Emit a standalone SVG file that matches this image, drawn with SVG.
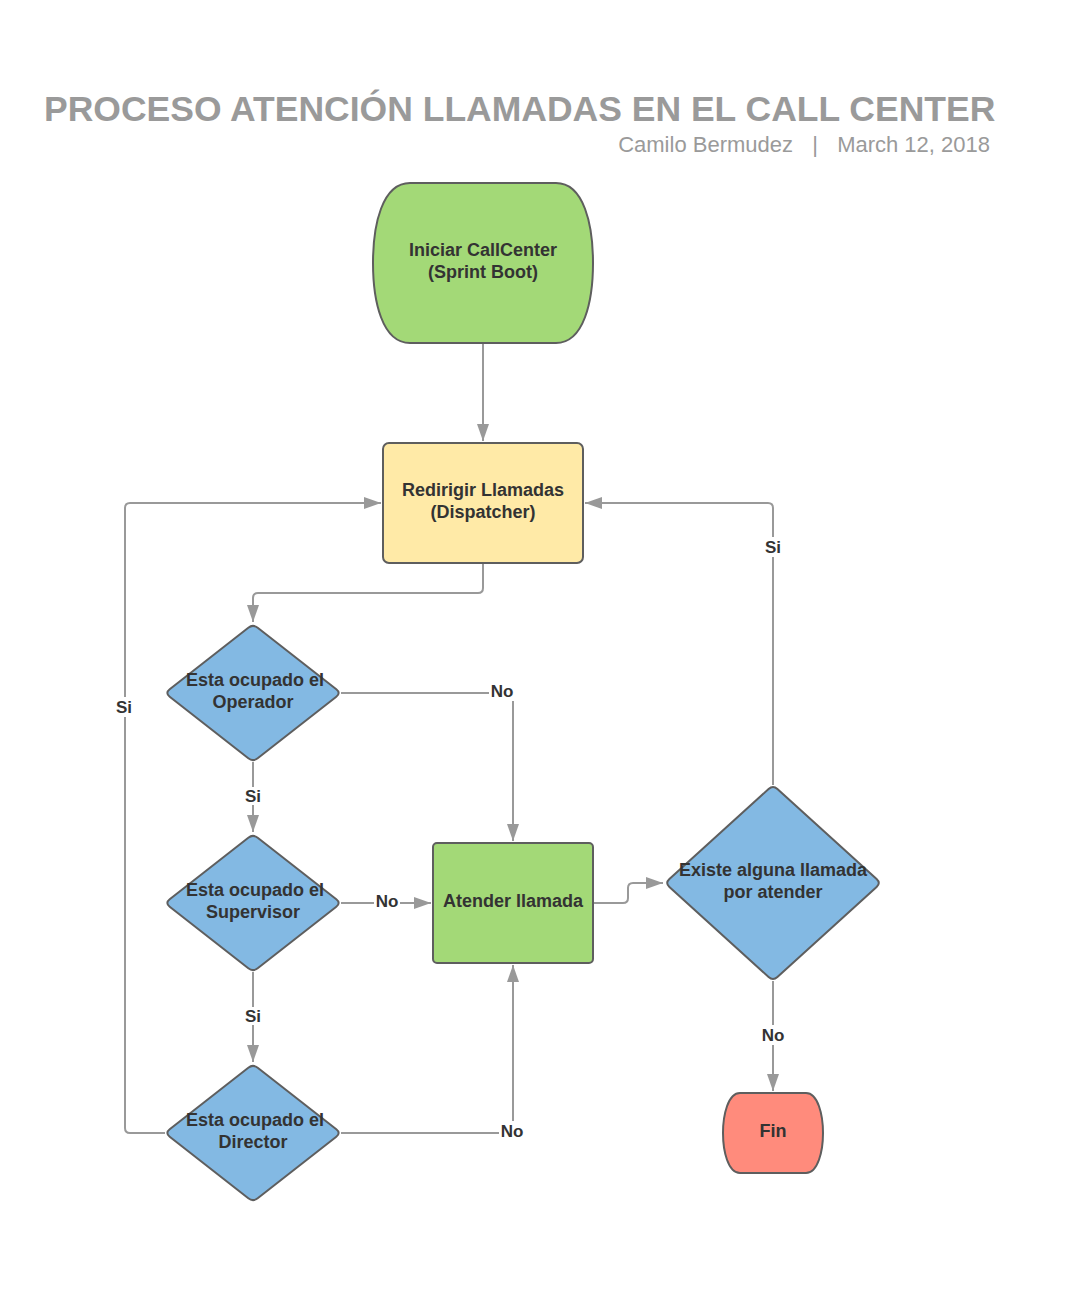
<svg xmlns="http://www.w3.org/2000/svg" width="1077" height="1293" viewBox="0 0 1077 1293">
  <style>
    .title { font-family: "Liberation Sans", Arial, sans-serif; font-weight: bold; font-size: 35.5px; fill: #9a9a9a; }
    .sub { font-family: "Liberation Sans", Arial, sans-serif; font-size: 22px; fill: #9a9a9a; }
    .node { stroke: #5e5e5e; stroke-width: 2; stroke-linejoin: round; }
    .green { fill: #a3d977; }
    .yellow { fill: #ffeaa7; }
    .blue { fill: #83b9e3; }
    .red { fill: #ff8b7c; }
    .txt { font-family: "Liberation Sans", Arial, sans-serif; font-weight: bold; font-size: 18px; fill: #333333; text-anchor: middle; }
    .conn { fill: none; stroke: #999999; stroke-width: 2; }
    .lbl { font-family: "Liberation Sans", Arial, sans-serif; font-weight: bold; font-size: 17px; fill: #333333; text-anchor: middle; }
    .lblbg { fill: #ffffff; }
  </style>
  <defs>
    <marker id="arrow" markerUnits="userSpaceOnUse" markerWidth="17" markerHeight="12" refX="17" refY="6" orient="auto">
      <path d="M0,0 L17,6 L0,12 Z" fill="#999999"/>
    </marker>
  </defs>

  <rect width="1077" height="1293" fill="#ffffff"/>

  <!-- heading -->
  <text class="title" x="44" y="121">PROCESO ATENCIÓN LLAMADAS EN EL CALL CENTER</text>
  <text class="sub" x="793" y="152" text-anchor="end">Camilo Bermudez</text>
  <text class="sub" x="815" y="152" text-anchor="middle">|</text>
  <text class="sub" x="990" y="152" text-anchor="end">March 12, 2018</text>

  <!-- connectors -->
  <g id="connectors">
    <path class="conn" marker-end="url(#arrow)" d="M483,343 V441"/>
    <path class="conn" marker-end="url(#arrow)" d="M483,563 V588 Q483,593 478,593 H258 Q253,593 253,598 V622"/>
    <path class="conn" marker-end="url(#arrow)" d="M341,693 H508 Q513,693 513,698 V841"/>
    <path class="conn" marker-end="url(#arrow)" d="M253,762 V832"/>
    <path class="conn" marker-end="url(#arrow)" d="M341,903 H431"/>
    <path class="conn" marker-end="url(#arrow)" d="M253,972 V1062"/>
    <path class="conn" marker-end="url(#arrow)" d="M341,1133 H508 Q513,1133 513,1128 V965"/>
    <path class="conn" marker-end="url(#arrow)" d="M165,1133 H130 Q125,1133 125,1128 V508 Q125,503 130,503 H381"/>
    <path class="conn" marker-end="url(#arrow)" d="M593,903 H623 Q628,903 628,898 V888 Q628,883 633,883 H663"/>
    <path class="conn" marker-end="url(#arrow)" d="M773,785 V508 Q773,503 768,503 H585"/>
    <path class="conn" marker-end="url(#arrow)" d="M773,981 V1091"/>

    <!-- connector labels -->
    <rect class="lblbg" x="489" y="683" width="26" height="18"/>
    <text class="lbl" x="502" y="697">No</text>
    <rect class="lblbg" x="244" y="787" width="18" height="18"/>
    <text class="lbl" x="253" y="802">Si</text>
    <rect class="lblbg" x="374" y="893" width="26" height="18"/>
    <text class="lbl" x="387" y="907">No</text>
    <rect class="lblbg" x="244" y="1007" width="18" height="18"/>
    <text class="lbl" x="253" y="1022">Si</text>
    <rect class="lblbg" x="499" y="1121" width="26" height="18"/>
    <text class="lbl" x="512" y="1137">No</text>
    <rect class="lblbg" x="115" y="697" width="18" height="20"/>
    <text class="lbl" x="124" y="713">Si</text>
    <rect class="lblbg" x="764" y="537" width="18" height="20"/>
    <text class="lbl" x="773" y="553">Si</text>
    <rect class="lblbg" x="760" y="1025" width="26" height="20"/>
    <text class="lbl" x="773" y="1041">No</text>
  </g>

  <!-- start: Iniciar CallCenter -->
  <g id="node-start">
    <path class="node green" d="M410,183 H556 C584,183 593,225 593,263 C593,301 584,343 556,343 H410 C382,343 373,301 373,263 C373,225 382,183 410,183 Z"/>
    <text class="txt" x="483" y="256">Iniciar CallCenter</text>
    <text class="txt" x="483" y="278">(Sprint Boot)</text>
  </g>

  <!-- Redirigir Llamadas -->
  <g id="node-dispatcher">
    <rect class="node yellow" x="383" y="443" width="200" height="120" rx="6"/>
    <text class="txt" x="483" y="496">Redirigir Llamadas</text>
    <text class="txt" x="483" y="518">(Dispatcher)</text>
  </g>

  <!-- decision: Operador -->
  <g id="node-operador">
    <path class="node blue" d="M257.7,627.7 L336.3,689.3 Q341,693 336.3,696.7 L257.7,758.3 Q253,762 248.3,758.3 L169.7,696.7 Q165,693 169.7,689.3 L248.3,627.7 Q253,624 257.7,627.7 Z"/>
    <text class="txt" x="255" y="686">Esta ocupado el</text>
    <text class="txt" x="253" y="708">Operador</text>
  </g>

  <!-- decision: Supervisor -->
  <g id="node-supervisor">
    <path class="node blue" d="M257.7,837.7 L336.3,899.3 Q341,903 336.3,906.7 L257.7,968.3 Q253,972 248.3,968.3 L169.7,906.7 Q165,903 169.7,899.3 L248.3,837.7 Q253,834 257.7,837.7 Z"/>
    <text class="txt" x="255" y="896">Esta ocupado el</text>
    <text class="txt" x="253" y="918">Supervisor</text>
  </g>

  <!-- decision: Director -->
  <g id="node-director">
    <path class="node blue" d="M257.7,1067.7 L336.3,1129.3 Q341,1133 336.3,1136.7 L257.7,1198.3 Q253,1202 248.3,1198.3 L169.7,1136.7 Q165,1133 169.7,1129.3 L248.3,1067.7 Q253,1064 257.7,1067.7 Z"/>
    <text class="txt" x="255" y="1126">Esta ocupado el</text>
    <text class="txt" x="253" y="1148">Director</text>
  </g>

  <!-- Atender llamada -->
  <g id="node-atender">
    <rect class="node green" x="433" y="843" width="160" height="120" rx="4"/>
    <text class="txt" x="513" y="907">Atender llamada</text>
  </g>

  <!-- decision: pending calls -->
  <g id="node-existe">
    <path class="node blue" d="M777.4,789 L876.6,879 Q881,883 876.6,887 L777.4,977 Q773,981 768.6,977 L669.4,887 Q665,883 669.4,879 L768.6,789 Q773,785 777.4,789 Z"/>
    <text class="txt" x="773" y="876">Existe alguna llamada</text>
    <text class="txt" x="773" y="898">por atender</text>
  </g>

  <!-- end: Fin -->
  <g id="node-fin">
    <path class="node red" d="M740,1093 H806 C818,1093 823,1115 823,1133 C823,1151 818,1173 806,1173 H740 C728,1173 723,1151 723,1133 C723,1115 728,1093 740,1093 Z"/>
    <text class="txt" x="773" y="1137">Fin</text>
  </g>
</svg>
